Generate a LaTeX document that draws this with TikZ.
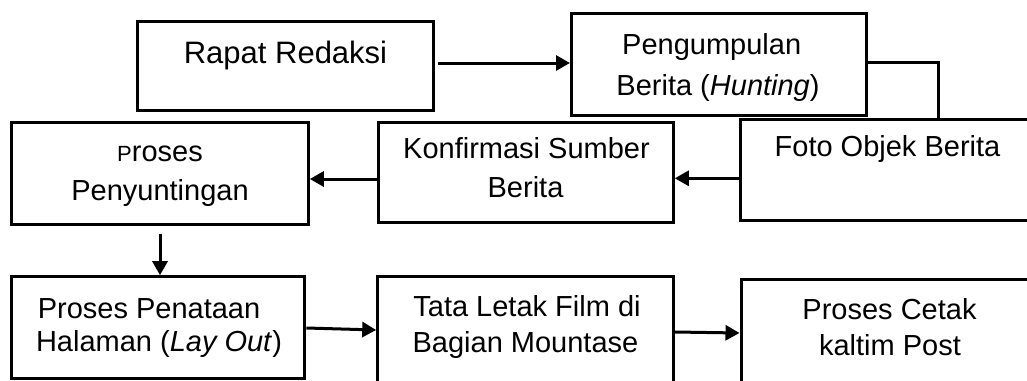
\documentclass[tikz,border=0pt]{standalone}
\usepackage{fontspec}
\setmainfont{Liberation Sans}
\usetikzlibrary{arrows.meta}
\begin{document}
\begin{tikzpicture}[x=1pt,y=-1pt,
  box/.style={draw, line width=3pt, rectangle, inner sep=0pt},
  conn/.style={line width=3pt, -{Triangle[length=14pt,width=15pt]}},
  plain/.style={line width=3pt},
  txt/.style={anchor=base, inner sep=0pt, font=\fontsize{29}{29}\selectfont},
  bigtxt/.style={anchor=base, inner sep=0pt, font=\fontsize{31}{31}\selectfont}]
\useasboundingbox (0,0) rectangle (1027,380);
\clip (0,0) rectangle (1027,380);
% boxes
\node[box, minimum width=296.5pt, minimum height=88.5pt] (rapat) at (285.25,65.75) {};
\node[box, minimum width=295pt, minimum height=101.7pt] (peng) at (719,64.2) {};
\node[box, minimum width=310pt, minimum height=101.7pt] (foto) at (895,169.85) {};
\node[box, minimum width=295pt, minimum height=100.4pt] (konf) at (525.8,172.5) {};
\node[box, minimum width=296.6pt, minimum height=102pt] (peny) at (160,173.3) {};
\node[box, minimum width=293.3pt, minimum height=101.6pt] (penataan) at (158.3,327.5) {};
\node[box, minimum width=295.6pt, minimum height=123.4pt] (tata) at (525.5,338.35) {};
\node[box, minimum width=309pt, minimum height=120.7pt] (cetak) at (895.5,339.65) {};
% texts
\node[bigtxt] (t1) at (285.5,63.3) {Rapat Redaksi};
\node[txt] (t2) at (711.7,54.5) {Pengumpulan};
\node[txt] (t3) at (718,95) {Berita (\textit{Hunting})};
\node[txt] (t4) at (887.5,156.7) {Foto Objek Berita};
\node[txt] (t5) at (526.5,158) {Konfirmasi Sumber};
\node[txt] (t6) at (525.5,197) {Berita};
\node[txt] (t7) at (160,161.7) {{\fontsize{22}{22}\selectfont P}roses};
\node[txt] (t8) at (160,200) {Penyuntingan};
\node[txt] (t9) at (149,318.3) {Proses Penataan};
\node[txt] (t10) at (159,351.7) {Halaman (\textit{Lay Out})};
\node[txt] (t11) at (527,316) {Tata Letak Film di};
\node[txt] (t12) at (525.5,352) {Bagian Mountase};
\node[txt] (t13) at (889.5,319) {Proses Cetak};
\node[txt] (t14) at (890,355) {kaltim Post};
% connectors
\draw[conn] ([xshift=3pt,yshift=2.75pt]rapat.east) -- ([yshift=1.2pt]peng.west);
\draw[plain] ([yshift=1.5pt]peng.east) -| ([xshift=43pt]foto.north);
\draw[conn] ([yshift=-8.45pt]foto.west) -- ([yshift=-5.8pt]konf.east);
\draw[conn] ([yshift=-6.5pt]konf.west) -- ([yshift=-5.7pt]peny.east);
\draw[conn] ([yshift=-8pt]peny.south) -- ([xshift=1.7pt]penataan.north);
\draw[conn] ([yshift=-0.5pt]penataan.east) -- ([yshift=8.35pt]tata.west);
\draw[conn] ([yshift=6.35pt]tata.east) -- ([yshift=6.65pt]cetak.west);
\end{tikzpicture}
\end{document}
